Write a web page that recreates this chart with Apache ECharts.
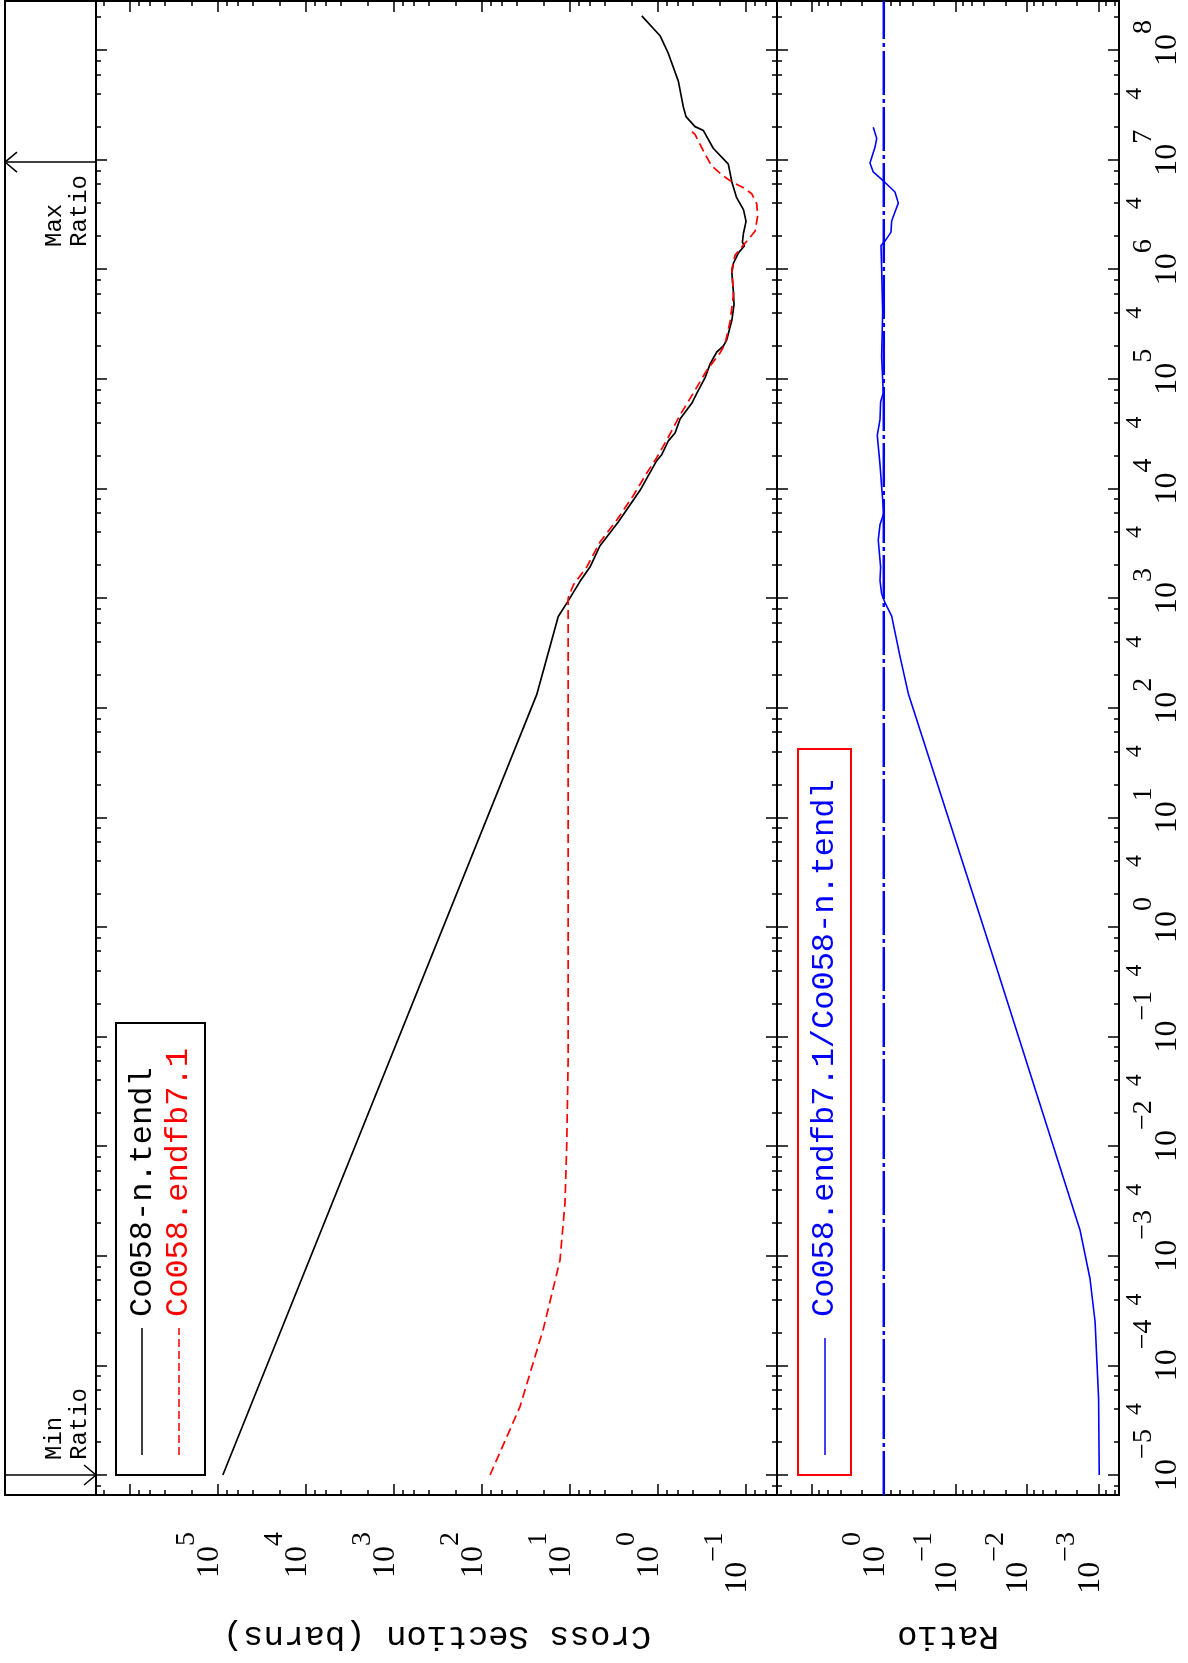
<!DOCTYPE html>
<html>
<head>
<meta charset="utf-8">
<script src="https://cdn.jsdelivr.net/npm/echarts@6/dist/echarts.min.js"></script>
<style>
html,body{margin:0;padding:0;background:#fff;}
#chart{width:1188px;height:1663px;}
</style>
</head>
<body>
<div id="chart"></div>
<script>
// ---------------- data ----------------
// Co058-n.tendl cross section (barns) vs incident energy (eV)
const tendlEnergy = [1e-5, 131.5, 679, 953, 1422, 1919, 3006, 4943, 9616, 17950, 20320, 27160, 32060, 42950, 59800, 73620,
  1.026e5, 1.37e5, 1.758e5, 1.995e5, 2.26e5, 3.42e5, 4.764e5, 6.123e5, 9.27e5, 1.14e6, 1.41e6, 1.63e6, 1.77e6, 2.13e6,
  2.73e6, 3.5e6, 4.5e6, 6.26e6, 9.1e6, 1.27e7, 1.84e7, 2.0e7, 2.47e7, 3.03e7, 5.2e7, 9.31e7, 1.35e8, 2.05e8];
const tendlXS = [8.8e4, 23.9, 13.6, 10.4, 7.69, 5.93, 4.56, 2.83, 1.60, 1.035, 0.908, 0.764, 0.641, 0.562, 0.414, 0.363,
  0.292, 0.256, 0.215, 0.181, 0.166, 0.145, 0.137, 0.139, 0.145, 0.139, 0.122, 0.1045, 0.110, 0.107,
  0.100, 0.107, 0.128, 0.145, 0.159, 0.236, 0.305, 0.380, 0.481, 0.516, 0.588, 0.764, 0.949, 1.53];

// Co058.endfb7.1 cross section (barns) vs energy (eV)
const endfEnergy = [1e-5, 4.2e-5, 2.15e-4, 9.1e-4, 3.04e-3, 0.0102, 0.062, 1000, 1315, 1919, 3250, 5150, 8630, 13830,
  19130, 27670, 46800, 74250, 1.192e5, 1.73e5, 2.088e5, 3.343e5, 5.86e5, 1.007e6, 1.35e6, 1.66e6, 1.88e6, 2.22e6,
  3.09e6, 3.97e6, 4.88e6, 5.53e6, 6.26e6, 7.1e6, 8.74e6, 1.12e7, 1.70e7, 1.92e7];
const endfXS = [81, 37, 20.1, 13.0, 11.4, 10.9, 10.5, 10.5, 9.17, 6.46, 4.56, 2.94, 1.91, 1.34,
  1.035, 0.796, 0.562, 0.397, 0.280, 0.197, 0.173, 0.152, 0.139, 0.145, 0.133, 0.107, 0.094, 0.079,
  0.0737, 0.0757, 0.0861, 0.107, 0.145, 0.181, 0.245, 0.292, 0.380, 0.453];

// Ratio endfb7.1 / tendl vs energy (eV)
const ratioEnergy = [1e-5, 5.0e-5, 2.5e-4, 6.2e-4, 1.72e-3, 0.455, 135, 294, 685, 908, 1094, 1449, 1919, 3373, 4677,
  5929, 10400, 16600, 30550, 42460, 61800, 74470, 1.581e5, 4.027e5, 1.028e6, 1.644e6, 1.807e6, 2.183e6, 2.754e6,
  3.327e6, 4.009e6, 5.07e6, 6.412e6, 7.727e6, 9.333e6, 1.294e7, 1.563e7, 1.977e7];
const ratioValues = [9.8e-4, 1.0e-3, 1.12e-3, 1.32e-3, 1.82e-3, 0.0275, 0.455, 0.594, 0.776, 0.962, 1.072, 1.13, 1.107, 1.194, 1.13,
  1.0, 1.072, 1.13, 1.233, 1.13, 1.107, 1.016, 1.072, 1.037, 1.072, 1.094, 0.962, 0.794, 0.776,
  0.698, 0.627, 0.698, 1.016, 1.403, 1.56, 1.327, 1.256, 1.403];

// Ratio = 1 reference line
const unityRatio = [1, 1];

// Max / Min ratio markers (energy, eV)
const maxRatioEnergy = 9.5e6;
const minRatioEnergy = 1e-5;

// Axis ranges
const ENERGY_RANGE = [6.57e-6, 2.8e8];
const XS_RANGE = [0.0445, 2.43e6];
const RATIO_RANGE = [5.19e-4, 31.0];

// Tick labels
const energyLabelValues = [1e-5, 1e-4, 1e-3, 1e-2, 1e-1, 1e0, 1e1, 1e2, 1e3, 1e4, 1e5, 1e6, 1e7, 1e8];
const energyFourValues = [4e-5, 4e-4, 4e-3, 4e-2, 4e-1, 4e0, 4e1, 4e2, 4e3, 4e4, 4e5, 4e6, 4e7];
const crossLabelValues = [1e5, 1e4, 1e3, 1e2, 1e1, 1e0, 1e-1];
const ratioLabelValues = [1e0, 1e-1, 1e-2, 1e-3];

// Legend / titles texts
const legendTendl = 'Co058-n.tendl';
const legendEndf = 'Co058.endfb7.1';
const legendRatio = 'Co058.endfb7.1/Co058-n.tendl';
const titleXS = 'Cross Section (barns)';
const titleRatio = 'Ratio';

// ---------------- helpers ----------------
function p10(k) { return Number('1e' + k); }
function majorTicks(range) {
  const out = [];
  const lo = Math.floor(Math.log10(range[0])), hi = Math.ceil(Math.log10(range[1]));
  for (let k = lo; k <= hi; k++) { const v = p10(k); if (v >= range[0] && v <= range[1]) out.push(v); }
  return out;
}
function minorTicks(range) {
  const out = [];
  const lo = Math.floor(Math.log10(range[0])) - 1, hi = Math.ceil(Math.log10(range[1]));
  for (let k = lo; k <= hi; k++) {
    for (const m of [2, 4, 6, 8]) { const v = Number(m + 'e' + k); if (v >= range[0] && v <= range[1]) out.push(v); }
  }
  return out;
}
function expText(v) {
  const e = Math.round(Math.log10(v));
  return e < 0 ? '\u2212' + (-e) : String(e);
}
const SERIF = '"Liberation Serif", "Times New Roman", serif';
const MONO = '"Liberation Mono", "Courier New", monospace';
const richBase = {
  b: { fontFamily: SERIF, fontSize: 32, color: '#000' },
  s: { fontFamily: SERIF, fontSize: 28, color: '#000', padding: [0, 0, 47, 0] },
  p: { width: 14, fontSize: 12 },
  pn: { width: 30, fontSize: 12 }
};
const tickLine = { color: '#000', width: 1.5 };

function energyAxis(grid, position, major, label) {
  return {
    gridIndex: grid, type: 'log', logBase: 10, min: ENERGY_RANGE[0], max: ENERGY_RANGE[1], position: position,
    axisLine: { show: false }, splitLine: { show: false }, minorTick: { show: false }, silent: true,
    axisTick: { show: true, inside: true, length: major ? 11 : 5,
      customValues: major ? majorTicks(ENERGY_RANGE) : minorTicks(ENERGY_RANGE), lineStyle: tickLine },
    axisLabel: label || { show: false }
  };
}
function valueAxis(grid, range, position, major, label) {
  return {
    gridIndex: grid, type: 'log', logBase: 10, min: range[0], max: range[1], inverse: true, position: position,
    axisLine: { show: false }, splitLine: { show: false }, minorTick: { show: false }, silent: true,
    axisTick: { show: true, inside: true, length: major ? 11 : 5,
      customValues: major ? majorTicks(range) : minorTicks(range), lineStyle: tickLine },
    axisLabel: label || { show: false }
  };
}
function bottomLabels(values) {
  return {
    show: true, rotate: 90, margin: 37, customValues: values, padding: [0, 0, 16, 0],
    formatter: function (v) { return '{b|10}{s|' + expText(v) + '}'; },
    rich: richBase
  };
}

const chart = echarts.init(document.getElementById('chart'), null, { renderer: 'canvas' });

const gridStyle = { show: true, borderColor: '#000', borderWidth: 2, backgroundColor: 'transparent', containLabel: false, outerBoundsMode: 'none' };

const option = {
  animation: false,
  backgroundColor: '#fff',
  grid: [
    Object.assign({ left: 96, right: 411, top: 1, bottom: 168 }, gridStyle),
    Object.assign({ left: 777, right: 69, top: 1, bottom: 168 }, gridStyle),
    Object.assign({ left: 5, right: 1092, top: 1, bottom: 168 }, gridStyle)
  ],
  xAxis: [
    valueAxis(0, XS_RANGE, 'bottom', true, bottomLabels(crossLabelValues)),
    valueAxis(0, XS_RANGE, 'bottom', false),
    valueAxis(0, XS_RANGE, 'top', true),
    valueAxis(0, XS_RANGE, 'top', false),
    valueAxis(1, RATIO_RANGE, 'bottom', true, bottomLabels(ratioLabelValues)),
    valueAxis(1, RATIO_RANGE, 'bottom', false),
    valueAxis(1, RATIO_RANGE, 'top', true),
    valueAxis(1, RATIO_RANGE, 'top', false),
    { gridIndex: 2, type: 'value', min: 0, max: 1, show: false }
  ],
  yAxis: [
    energyAxis(0, 'left', true),
    energyAxis(0, 'left', false),
    energyAxis(0, 'right', true),
    energyAxis(0, 'right', false),
    energyAxis(1, 'left', true),
    energyAxis(1, 'left', false),
    energyAxis(1, 'right', true, {
      show: true, rotate: 90, margin: 11, customValues: energyLabelValues,
      formatter: function (v) {
        const e = Math.round(Math.log10(v));
        return (e < 0 ? '{pn| }' : '{p| }') + '{b|10}{s|' + expText(v) + '}';
      },
      rich: richBase
    }),
    energyAxis(1, 'right', false, {
      show: true, rotate: 90, margin: 4, customValues: energyFourValues,
      formatter: function () { return '4'; },
      fontFamily: SERIF, fontSize: 24, color: '#000'
    }),
    { gridIndex: 2, type: 'log', logBase: 10, min: ENERGY_RANGE[0], max: ENERGY_RANGE[1], show: false }
  ],
  series: [
    {
      name: legendTendl, type: 'line', xAxisIndex: 0, yAxisIndex: 0, symbol: 'none', silent: true,
      lineStyle: { color: '#000', width: 1.7 },
      data: tendlEnergy.map((e, i) => [tendlXS[i], e])
    },
    {
      name: legendEndf, type: 'line', xAxisIndex: 0, yAxisIndex: 0, symbol: 'none', silent: true,
      lineStyle: { color: '#ff0000', width: 1.7, type: [9, 5] },
      data: endfEnergy.map((e, i) => [endfXS[i], e])
    },
    {
      name: legendRatio, type: 'line', xAxisIndex: 4, yAxisIndex: 4, symbol: 'none', silent: true,
      lineStyle: { color: '#0000ff', width: 1.6 },
      data: ratioEnergy.map((e, i) => [ratioValues[i], e])
    },
    {
      name: 'unity', type: 'line', xAxisIndex: 4, yAxisIndex: 4, symbol: 'none', silent: true,
      lineStyle: { color: '#0000ff', width: 2.5, type: [44, 4, 4, 4] },
      data: ENERGY_RANGE.map((e, i) => [unityRatio[i], e])
    },
    {
      name: 'ratioMarkers', type: 'custom', xAxisIndex: 8, yAxisIndex: 8, silent: true, clip: false,
      data: [[0, maxRatioEnergy], [1, minRatioEnergy]],
      renderItem: function (params, api) {
        const side = api.value(0), E = api.value(1);
        const a = api.coord([0, E]), b = api.coord([1, E]);
        const tip = side === 0 ? a : b;
        const dir = side === 0 ? 1 : -1;
        return {
          type: 'group',
          children: [
            { type: 'line', shape: { x1: a[0], y1: a[1], x2: b[0], y2: b[1] }, style: { stroke: '#000', lineWidth: 1.5 } },
            { type: 'polyline', shape: { points: [[tip[0] + dir * 12, tip[1] - 10], [tip[0], tip[1]], [tip[0] + dir * 12, tip[1] + 10]] },
              style: { stroke: '#000', fill: null, lineWidth: 1.5 } }
          ]
        };
      }
    }
  ],
  graphic: [
    // legend of cross-section panel
    { type: 'rect', z: 100, shape: { x: 116, y: 1023, width: 89, height: 452 }, style: { fill: '#fff', stroke: '#000', lineWidth: 2 } },
    { type: 'line', z: 101, shape: { x1: 142, y1: 1455, x2: 142, y2: 1328 }, style: { stroke: '#000', lineWidth: 1.5 } },
    { type: 'text', z: 101, x: 143, y: 1317, rotation: Math.PI / 2,
      style: { text: legendTendl, font: '32px ' + MONO, fill: '#000', textAlign: 'left', textVerticalAlign: 'middle', align: 'left', verticalAlign: 'middle' } },
    { type: 'line', z: 101, shape: { x1: 179, y1: 1455, x2: 179, y2: 1328 }, style: { stroke: '#ff0000', lineWidth: 1.5, lineDash: [8, 4] } },
    { type: 'text', z: 101, x: 179, y: 1317, rotation: Math.PI / 2,
      style: { text: legendEndf, font: '32px ' + MONO, fill: '#ff0000', textAlign: 'left', textVerticalAlign: 'middle', align: 'left', verticalAlign: 'middle' } },
    // legend of ratio panel
    { type: 'rect', z: 100, shape: { x: 798, y: 749, width: 53, height: 726 }, style: { fill: '#fff', stroke: '#ff0000', lineWidth: 2 } },
    { type: 'line', z: 101, shape: { x1: 825, y1: 1455, x2: 825, y2: 1338 }, style: { stroke: '#0000ff', lineWidth: 1.5 } },
    { type: 'text', z: 101, x: 825, y: 1317, rotation: Math.PI / 2,
      style: { text: legendRatio, font: '32px ' + MONO, fill: '#0000ff', textAlign: 'left', textVerticalAlign: 'middle', align: 'left', verticalAlign: 'middle' } },
    // Max / Min ratio labels
    { type: 'text', z: 101, x: 55, y: 247, rotation: Math.PI / 2,
      style: { text: 'Max', font: '24px ' + MONO, fill: '#000', textAlign: 'left', textVerticalAlign: 'middle', align: 'left', verticalAlign: 'middle' } },
    { type: 'text', z: 101, x: 80, y: 247, rotation: Math.PI / 2,
      style: { text: 'Ratio', font: '24px ' + MONO, fill: '#000', textAlign: 'left', textVerticalAlign: 'middle', align: 'left', verticalAlign: 'middle' } },
    { type: 'text', z: 101, x: 55, y: 1460, rotation: Math.PI / 2,
      style: { text: 'Min', font: '24px ' + MONO, fill: '#000', textAlign: 'left', textVerticalAlign: 'middle', align: 'left', verticalAlign: 'middle' } },
    { type: 'text', z: 101, x: 80, y: 1460, rotation: Math.PI / 2,
      style: { text: 'Ratio', font: '24px ' + MONO, fill: '#000', textAlign: 'left', textVerticalAlign: 'middle', align: 'left', verticalAlign: 'middle' } },
    // axis titles (upside down, as in the reference)
    { type: 'text', z: 101, x: 437, y: 1636, rotation: Math.PI,
      style: { text: titleXS, font: '34px ' + MONO, fill: '#000', textAlign: 'center', textVerticalAlign: 'middle', align: 'center', verticalAlign: 'middle' } },
    { type: 'text', z: 101, x: 948, y: 1636, rotation: Math.PI,
      style: { text: titleRatio, font: '34px ' + MONO, fill: '#000', textAlign: 'center', textVerticalAlign: 'middle', align: 'center', verticalAlign: 'middle' } }
  ]
};

chart.setOption(option);
</script>
</body>
</html>
